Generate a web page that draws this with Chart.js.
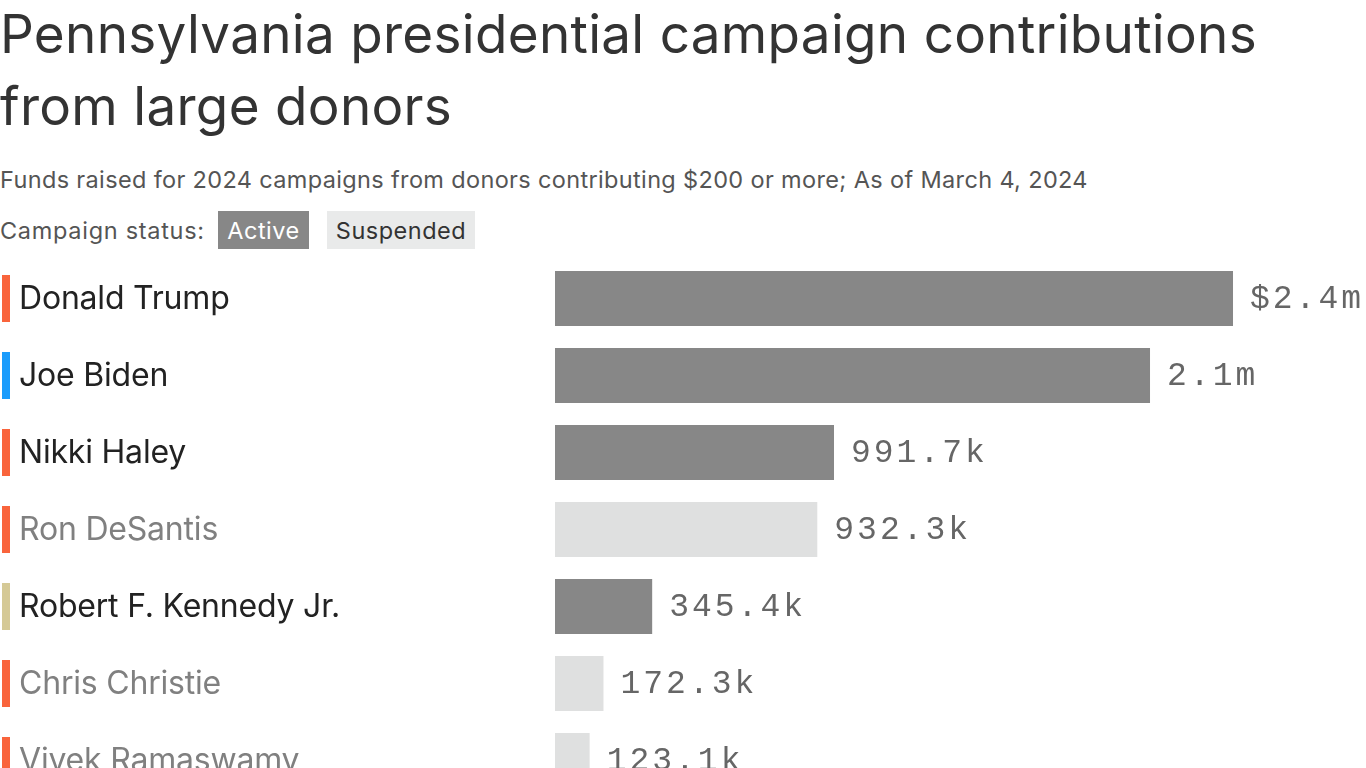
<!DOCTYPE html>
<html>
<head>
<meta charset="utf-8">
<script src="https://cdn.jsdelivr.net/npm/chart.js@4.4.1/dist/chart.umd.min.js"></script>
<style>
  html, body { margin: 0; padding: 0; background: #fff; overflow: hidden; width: 1366px; height: 768px; }
  body { font-family: Inter, "Noto Sans", sans-serif; color: #333; position: relative; }
  .title { position: absolute; left: 0; top: -2px; font-size: 53px; line-height: 72px; color: #333; letter-spacing: 0.3px; white-space: nowrap; }
  .sub { position: absolute; left: 0; top: 168px; font-size: 23.5px; line-height: 1; color: #555; letter-spacing: 0.35px; white-space: nowrap; }
  .legend-label { position: absolute; left: 0; top: 219px; font-size: 23.5px; line-height: 1; color: #555; letter-spacing: 0.7px; white-space: nowrap; }
  .chip { position: absolute; top: 211px; height: 38px; display: flex; align-items: center; justify-content: center; font-size: 23.5px; letter-spacing: 0.5px; }
  .chip.active { left: 218px; width: 91px; background: #878787; color: #fff; }
  .chip.susp { left: 327px; width: 148px; background: #e9eaea; color: #333; }
  #wrap { position: absolute; left: 0; top: 260px; width: 1366px; height: 539px; }
</style>
</head>
<body>
<div class="title">Pennsylvania presidential campaign contributions<br>from large donors</div>
<div class="sub">Funds raised for 2024 campaigns from donors contributing $200 or more; As of March 4, 2024</div>
<div class="legend-label">Campaign status:</div>
<div class="chip active">Active</div>
<div class="chip susp">Suspended</div>
<div id="wrap"><canvas id="c"></canvas></div>
<script>
const candidates = ["Donald Trump", "Joe Biden", "Nikki Haley", "Ron DeSantis", "Robert F. Kennedy Jr.", "Chris Christie", "Vivek Ramaswamy"];
const raised = [2410000, 2115000, 991700, 932300, 345400, 172300, 123100];
const valueLabels = ["$2.4m", "2.1m", "991.7k", "932.3k", "345.4k", "172.3k", "123.1k"];
const status = ["Active", "Active", "Active", "Suspended", "Active", "Suspended", "Suspended"];
const party = ["R", "D", "R", "R", "I", "R", "R"];

const statusColor = { Active: "#878787", Suspended: "#dfe0e0" };
const nameColor = { Active: "#222222", Suspended: "#808080" };
const partyColor = { R: "#f9643c", D: "#1a9cfc", I: "#d5c996" };

const sidePlugin = {
  id: "side",
  afterDatasetsDraw(chart) {
    const ctx = chart.ctx;
    const y = chart.scales.y;
    const meta = chart.getDatasetMeta(0);
    ctx.save();
    candidates.forEach((name, i) => {
      const cy = y.getPixelForValue(i);
      ctx.fillStyle = partyColor[party[i]];
      ctx.fillRect(2, cy - 23.5, 8, 47);
      ctx.font = "32px Inter, 'Noto Sans', sans-serif";
      ctx.fillStyle = nameColor[status[i]];
      ctx.textAlign = "left";
      ctx.textBaseline = "middle";
      ctx.letterSpacing = "-0.2px";
      ctx.fillText(name, 19, cy + 1);
      const bar = meta.data[i];
      ctx.font = "33px 'Liberation Mono', 'DejaVu Sans Mono', monospace";
      ctx.fillStyle = "#666666";
      ctx.letterSpacing = "3px";
      ctx.fillText(valueLabels[i], bar.x + 17, cy + 1);
    });
    ctx.restore();
  }
};

new Chart(document.getElementById("c"), {
  type: "bar",
  data: {
    labels: candidates,
    datasets: [{
      data: raised,
      backgroundColor: status.map(s => statusColor[s]),
      borderWidth: 0,
      categoryPercentage: 1,
      barPercentage: 55 / 77
    }]
  },
  options: {
    indexAxis: "y",
    responsive: true,
    maintainAspectRatio: false,
    animation: false,
    layout: { padding: { left: 555, right: 0, top: 0, bottom: 0 } },
    plugins: { legend: { display: false }, tooltip: { enabled: false } },
    scales: {
      x: { display: false, min: 0, max: 2882700 },
      y: { display: false }
    }
  },
  plugins: [sidePlugin]
});
</script>
</body>
</html>
